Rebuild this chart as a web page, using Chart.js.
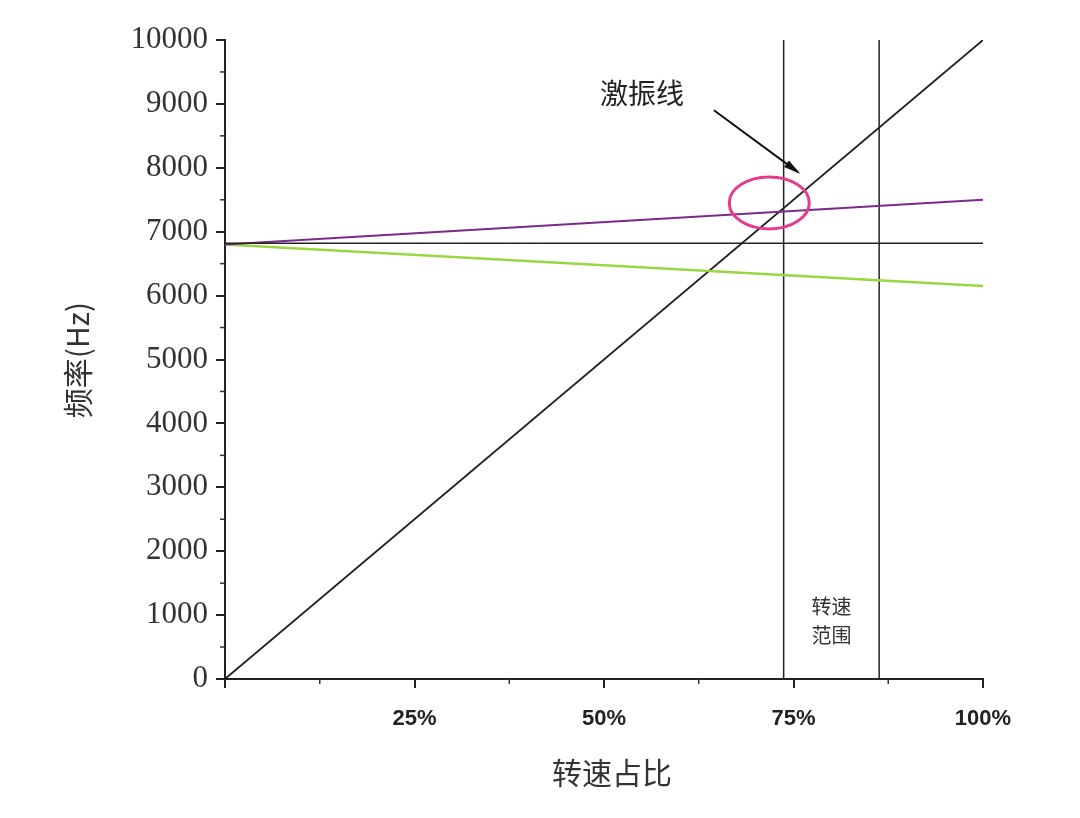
<!DOCTYPE html>
<html><head><meta charset="utf-8">
<script src="https://cdn.jsdelivr.net/npm/chart.js@4/dist/chart.umd.min.js"></script>
<style>html,body{margin:0;background:#fff}#w{width:1080px;height:818px}</style>
</head><body><div id="w"><canvas id="c"></canvas></div>
<script>
const excitation = [{x:0,y:0},{x:100,y:10000}];
const purple = [{x:0,y:6800},{x:100,y:7500}];
const green = [{x:0,y:6800},{x:100,y:6150}];
const flat = [{x:0,y:6820},{x:100,y:6820}];
const rangeLow = 73.7, rangeHigh = 86.3;
const xTicks = [25,50,75,100];
const yMax = 10000;
const xTitle = '转速占比', yTitle = '频率(Hz)';

const extras = {
  id:'extras',
  afterDatasetsDraw(ch){
    const {ctx, scales:{x,y}} = ch;
    ctx.save();
    ctx.strokeStyle='#333'; ctx.lineWidth=1.5;
    for(let v=12.5; v<100; v+=25){ const px=x.getPixelForValue(v); ctx.beginPath(); ctx.moveTo(px,y.bottom); ctx.lineTo(px,y.bottom+5); ctx.stroke(); }
    for(let v=500; v<yMax; v+=1000){ const py=y.getPixelForValue(v); ctx.beginPath(); ctx.moveTo(x.left,py); ctx.lineTo(x.left-5,py); ctx.stroke(); }
    ctx.strokeStyle='#e83a8c'; ctx.lineWidth=3;
    ctx.beginPath(); ctx.ellipse(x.getPixelForValue(71.8), y.getPixelForValue(7450), 40, 26, 0, 0, Math.PI*2); ctx.stroke();
    const x1=x.getPixelForValue(64.5), y1=y.getPixelForValue(8900), x2=x.getPixelForValue(75.5), y2=y.getPixelForValue(7940);
    ctx.strokeStyle='#111'; ctx.fillStyle='#111'; ctx.lineWidth=2;
    ctx.beginPath(); ctx.moveTo(x1,y1); ctx.lineTo(x2,y2); ctx.stroke();
    const a=Math.atan2(y2-y1,x2-x1);
    ctx.beginPath(); ctx.moveTo(x2+4*Math.cos(a),y2+4*Math.sin(a));
    ctx.lineTo(x2-14*Math.cos(a-0.3),y2-14*Math.sin(a-0.3));
    ctx.lineTo(x2-14*Math.cos(a+0.3),y2-14*Math.sin(a+0.3)); ctx.closePath(); ctx.fill();
    ctx.font='28px "Noto Sans CJK SC"'; ctx.fillStyle='#222'; ctx.textAlign='center'; ctx.textBaseline='middle';
    ctx.fillText('激振线', x.getPixelForValue(55), y.getPixelForValue(9160));
    ctx.font='20px "Noto Sans CJK SC"'; ctx.fillStyle='#333';
    const cx=x.getPixelForValue((rangeLow+rangeHigh)/2);
    ctx.fillText('转速', cx, y.getPixelForValue(1130));
    ctx.fillText('范围', cx, y.getPixelForValue(680));
    ctx.font='30px "Noto Sans CJK SC"'; ctx.fillStyle='#333';
    ctx.fillText(xTitle, 612, 773);
    ctx.translate(78, 360); ctx.rotate(-Math.PI/2);
    ctx.fillText(yTitle, 0, 0);
    ctx.restore();
  }
};

const ln = (data,color,w)=>({data,borderColor:color,borderWidth:w,pointRadius:0,showLine:true,fill:false});
new Chart(document.getElementById('c'),{
  type:'scatter',
  data:{datasets:[
    ln(flat,'#222',1.5),
    ln(purple,'#7a2a8a',2),
    ln(green,'#9ad640',2.5),
    ln(excitation,'#222',1.8),
    ln([{x:rangeLow,y:0},{x:rangeLow,y:yMax}],'#222',1.5),
    ln([{x:rangeHigh,y:0},{x:rangeHigh,y:yMax}],'#222',1.5),
  ]},
  options:{
    responsive:true, maintainAspectRatio:false, animation:false,
    layout:{padding:{top:40,right:97,left:0,bottom:0}},
    plugins:{legend:{display:false},tooltip:{enabled:false}},
    scales:{
      x:{type:'linear',min:0,max:100,
        afterFit(s){s.height=139;},
        border:{color:'#222',width:2},
        grid:{drawOnChartArea:false,tickLength:9,color:'#222',lineWidth:2},
        ticks:{stepSize:25,color:'#222',padding:18,font:{family:'Liberation Sans',size:22,weight:'bold'},
          callback:v=>xTicks.includes(v)?v+'%':''}},
      y:{min:0,max:yMax,
        afterFit(s){s.width=225;},
        border:{color:'#222',width:2},
        grid:{drawOnChartArea:false,tickLength:9,color:'#222',lineWidth:2},
        ticks:{stepSize:1000,color:'#333',padding:8,font:{family:'Liberation Serif',size:31},callback:v=>String(v)}}
    }
  },
  plugins:[extras]
});
</script></body></html>
